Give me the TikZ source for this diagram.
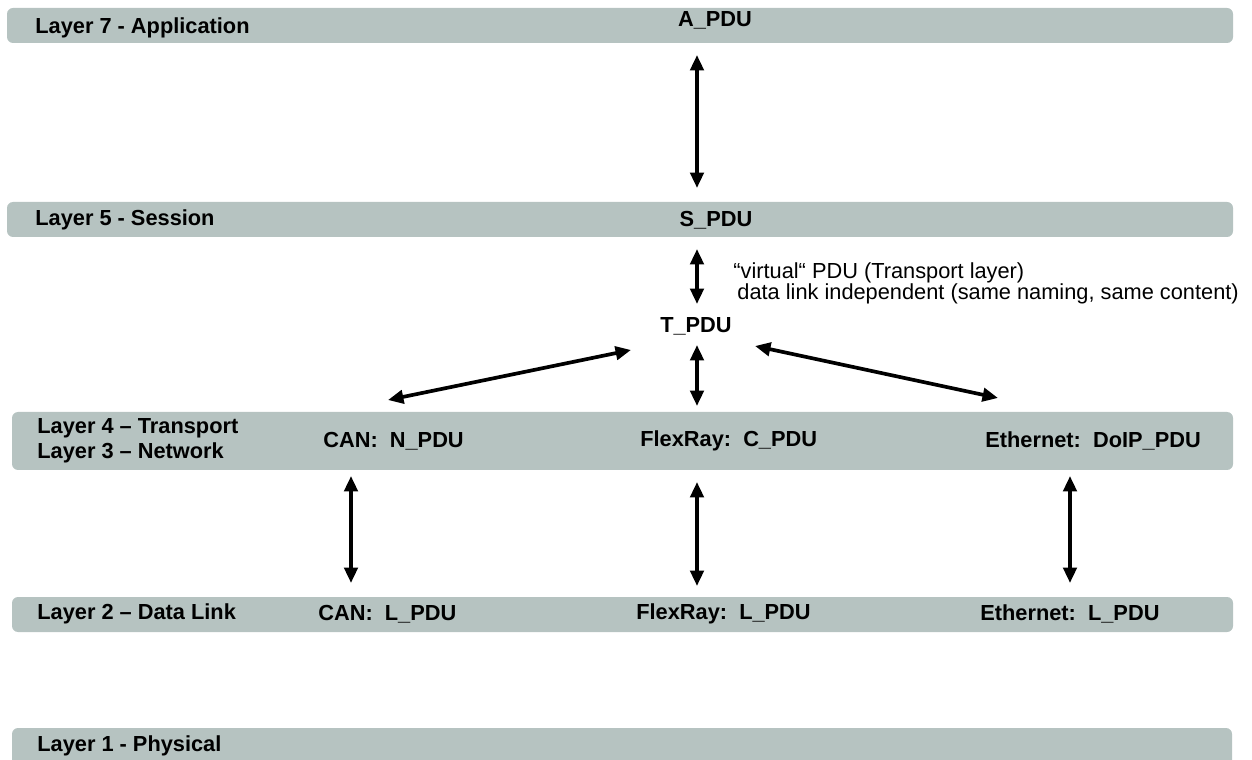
\documentclass[tikz,border=0pt]{standalone}
\usepackage{fontspec}
\setmainfont{Liberation Sans}
\usetikzlibrary{arrows.meta}
\definecolor{barcol}{RGB}{182,195,193}
\tikzset{
  bar/.style={fill=barcol, rounded corners=6*0.02cm},
  lbl/.style={font=\fontsize{12.4}{14.2}\selectfont\bfseries, anchor=west, inner sep=0pt, align=left},
  pdu/.style={font=\fontsize{12.4}{14.2}\selectfont\bfseries, inner sep=0pt},
  note/.style={font=\fontsize{12.4}{11.9}\selectfont, anchor=west, inner sep=0pt, align=left},
  arr/.style={line width=2.1pt, {Triangle[length=8.8pt,width=7.6pt]}-{Triangle[length=8.8pt,width=7.6pt]}}
}
\begin{document}
\begin{tikzpicture}[x=0.02cm,y=-0.02cm]
\useasboundingbox (0,0) rectangle (1252,760);
\clip (0,0) rectangle (1252,760);
% bars
\path[bar] (7,8) rectangle (1233,43);
\path[bar] (7,202) rectangle (1233,237);
\path[bar] (12,412) rectangle (1233,470);
\path[bar] (12,597) rectangle (1233,632);
\path[bar] (12,728) rectangle (1232,790);
% layer labels
\node[lbl] (l7) at (35,28) {Layer 7 - Application};
\node[lbl] (l5) at (35,220) {Layer 5 - Session};
\node[lbl] (l43) at (37,441) {Layer 4 – Transport\\Layer 3 – Network};
\node[lbl] (l2) at (37,614) {Layer 2 – Data Link};
\node[lbl] (l1) at (37,746) {Layer 1 - Physical};
% PDUs
\node[pdu] (apdu) at (715,20) {A\_PDU};
\node[pdu] (spdu) at (716,220) {S\_PDU};
\node[pdu] (tpdu) at (696,326) {T\_PDU};
\node[lbl] (npdu) at (323,441) {CAN:~~N\_PDU};
\node[lbl] (cpdu) at (640,441) {FlexRay:~~C\_PDU};
\node[lbl] (dpdu) at (985,441) {Ethernet:~~DoIP\_PDU};
\node[lbl] (lcan) at (318,614) {CAN:~~L\_PDU};
\node[lbl] (lfr) at (636,614) {FlexRay:~~L\_PDU};
\node[lbl] (leth) at (980,614) {Ethernet:~~L\_PDU};
\node[note] (virt) at (733,283) {“virtual“ PDU (Transport layer)\\\hspace*{2.3pt}data link independent (same naming, same content)};
% arrow end points
\coordinate (a1) at (697,55);   \coordinate (a2) at (697,188);
\coordinate (b1) at (697,249);  \coordinate (b2) at (697,304);
\coordinate (c1) at (697,345);  \coordinate (c2) at (697,406);
\coordinate (d1) at (388,400);  \coordinate (d2) at (631,350);
\coordinate (e1) at (755,346);  \coordinate (e2) at (998,398);
\coordinate (f1) at (351,476);  \coordinate (f2) at (351,583);
\coordinate (g1) at (697,482);  \coordinate (g2) at (697,586);
\coordinate (h1) at (1070,476); \coordinate (h2) at (1070,583);
\draw[arr] (a1) -- (a2);
\draw[arr] (b1) -- (b2);
\draw[arr] (c1) -- (c2);
\draw[arr] (d1) -- (d2);
\draw[arr] (e1) -- (e2);
\draw[arr] (f1) -- (f2);
\draw[arr] (g1) -- (g2);
\draw[arr] (h1) -- (h2);
\end{tikzpicture}
\end{document}
